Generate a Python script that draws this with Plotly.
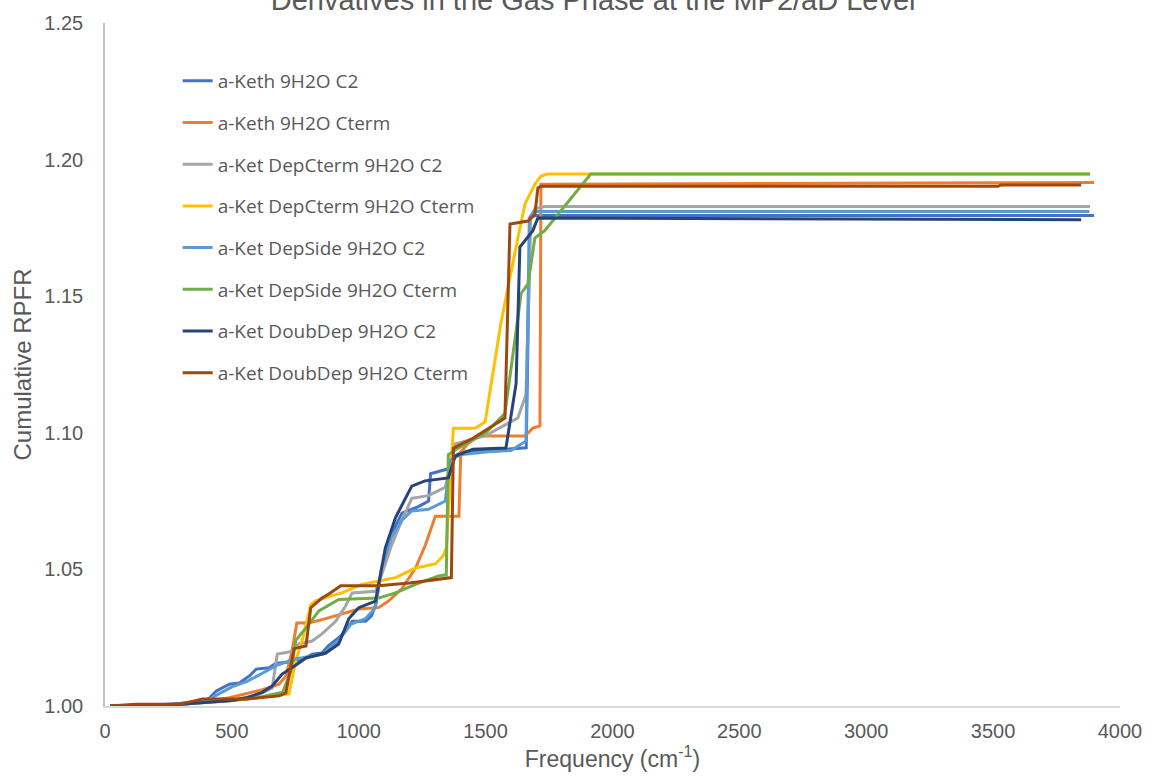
import plotly.graph_objects as go

# ---------------- data ----------------
series_names = [
    "a-Keth 9H2O C2",
    "a-Keth 9H2O Cterm",
    "a-Ket DepCterm 9H2O C2",
    "a-Ket DepCterm 9H2O Cterm",
    "a-Ket DepSide 9H2O C2",
    "a-Ket DepSide 9H2O Cterm",
    "a-Ket DoubDep 9H2O C2",
    "a-Ket DoubDep 9H2O Cterm",
]

keth_c2_freq = [20, 150, 300, 400, 412, 439, 490, 529, 569, 596, 647, 674, 720, 780, 816, 855, 880, 921, 948,
                974, 1027, 1050, 1066, 1105, 1140, 1170, 1235, 1275, 1283, 1341, 1361, 1380, 1404, 1500, 1600,
                1660, 1675, 1694, 3898]
keth_c2_val = [1.000, 1.000, 1.001, 1.002, 1.003, 1.0055, 1.008, 1.0084, 1.011, 1.0135, 1.014, 1.0157, 1.016,
               1.017, 1.019, 1.0194, 1.022, 1.025, 1.0275, 1.031, 1.031, 1.033, 1.037, 1.0567, 1.065, 1.0706,
               1.073, 1.075, 1.085, 1.0867, 1.087, 1.0915, 1.093, 1.0935, 1.094, 1.0945, 1.1786, 1.1795, 1.1795]

keth_ct_freq = [20, 200, 350, 490, 620, 686, 713, 737, 756, 803, 870, 948, 1000, 1078, 1117, 1170, 1224, 1263,
                1302, 1395, 1402, 1430, 1470, 1655, 1686, 1714, 1718, 3500, 3898]
keth_ct_val = [1.000, 1.000, 1.001, 1.003, 1.006, 1.008, 1.011, 1.020, 1.0304, 1.0304, 1.032, 1.034, 1.0355,
               1.036, 1.0384, 1.043, 1.0505, 1.059, 1.0695, 1.0695, 1.093, 1.096, 1.0988, 1.0988, 1.1017,
               1.1025, 1.191, 1.1915, 1.1916]

depct_c2_freq = [20, 200, 350, 500, 600, 659, 679, 737, 764, 816, 855, 909, 948, 974, 1066, 1090, 1130, 1170,
                 1209, 1275, 1326, 1341, 1380, 1500, 1627, 1659, 1678, 1694, 1733, 3882]
depct_c2_val = [1.000, 1.000, 1.001, 1.002, 1.004, 1.0066, 1.019, 1.020, 1.0227, 1.0238, 1.0264, 1.031, 1.0366,
                1.0414, 1.042, 1.048, 1.059, 1.068, 1.076, 1.077, 1.0794, 1.080, 1.0959, 1.099, 1.1054, 1.114,
                1.1786, 1.182, 1.1828, 1.1828]

depct_ct_freq = [20, 200, 350, 500, 600, 700, 725, 752, 780, 811, 830, 880, 933, 1012, 1145, 1224, 1302, 1333,
                 1345, 1373, 1459, 1498, 1560, 1627, 1655, 1694, 1718, 1745, 3882]
depct_ct_val = [1.000, 1.000, 1.001, 1.002, 1.003, 1.004, 1.0044, 1.0165, 1.025, 1.037, 1.0385, 1.040, 1.0414,
                1.0445, 1.047, 1.0505, 1.052, 1.055, 1.058, 1.1017, 1.1017, 1.104, 1.140, 1.1713, 1.1837,
                1.191, 1.194, 1.1947, 1.1947]

depside_c2_freq = [20, 200, 350, 420, 460, 500, 560, 620, 680, 740, 800, 860, 920, 970, 1027, 1066, 1090, 1130,
                   1170, 1209, 1275, 1341, 1360, 1400, 1500, 1600, 1659, 1672, 1690, 3880]
depside_c2_val = [1.000, 1.000, 1.001, 1.003, 1.005, 1.007, 1.009, 1.012, 1.015, 1.017, 1.018, 1.019, 1.024,
                  1.030, 1.032, 1.036, 1.0505, 1.062, 1.068, 1.0714, 1.072, 1.075, 1.090, 1.092, 1.093, 1.0935,
                  1.097, 1.1786, 1.181, 1.181]

depside_ct_freq = [20, 200, 350, 500, 600, 700, 733, 752, 792, 843, 921, 1078, 1145, 1224, 1314, 1345, 1353,
                   1392, 1500, 1576, 1640, 1667, 1694, 1733, 1914, 3882]
depside_ct_val = [1.000, 1.000, 1.001, 1.002, 1.003, 1.005, 1.0128, 1.024, 1.0286, 1.0348, 1.039, 1.0395,
                  1.0414, 1.0445, 1.0476, 1.048, 1.092, 1.0944, 1.100, 1.107, 1.151, 1.1545, 1.1713, 1.174,
                  1.1947, 1.1947]

doub_c2_freq = [20, 200, 350, 500, 556, 620, 659, 698, 737, 792, 870, 921, 961, 1000, 1066, 1105, 1145, 1209,
                1261, 1353, 1380, 1450, 1580, 1620, 1635, 1659, 1686, 1706, 3847]
doub_c2_val = [1.000, 1.000, 1.001, 1.002, 1.003, 1.005, 1.0073, 1.0117, 1.014, 1.0176, 1.0194, 1.0227, 1.032,
               1.036, 1.0384, 1.058, 1.069, 1.0805, 1.0824, 1.0835, 1.0915, 1.094, 1.0944, 1.118, 1.168, 1.171,
               1.174, 1.1786, 1.178]

doub_ct_freq = [20, 120, 294, 385, 556, 686, 713, 745, 792, 811, 855, 882, 929, 1078, 1200, 1365, 1373, 1450,
                1576, 1596, 1667, 1694, 1706, 1718, 3520, 3530, 3847]
doub_ct_val = [1.000, 1.0006, 1.0006, 1.0026, 1.0026, 1.0037, 1.0048, 1.021, 1.022, 1.036, 1.0395, 1.041, 1.044,
               1.044, 1.045, 1.047, 1.0944, 1.098, 1.1054, 1.1764, 1.1775, 1.18, 1.1896, 1.1902, 1.1902,
               1.1907, 1.1907]

x_tick_vals = [0, 500, 1000, 1500, 2000, 2500, 3000, 3500, 4000]
y_tick_vals = [1.00, 1.05, 1.10, 1.15, 1.20, 1.25]

colors = ["#4472C4", "#ED7D31", "#A5A5A5", "#FFC000", "#5B9BD5", "#70AD47", "#264478", "#9E480E"]

all_freq = [keth_c2_freq, keth_ct_freq, depct_c2_freq, depct_ct_freq,
            depside_c2_freq, depside_ct_freq, doub_c2_freq, doub_ct_freq]
all_val = [keth_c2_val, keth_ct_val, depct_c2_val, depct_ct_val,
           depside_c2_val, depside_ct_val, doub_c2_val, doub_ct_val]

# ---------------- figure ----------------
fig = go.Figure()
for i, name in enumerate(series_names):
    fig.add_trace(go.Scatter(
        x=all_freq[i], y=all_val[i], mode="lines", name=name,
        legendgroup="g%d" % i,
        line=dict(color=colors[i], width=3),
    ))

txt = "#595959"
fig.update_layout(
    width=1154, height=782,
    margin=dict(l=105, r=29, t=21, b=76),
    paper_bgcolor="white", plot_bgcolor="white",
    title=dict(text="Derivatives in the Gas Phase at the MP2/aD Level",
               x=0.514, xanchor="center", xref="container",
               y=1.0, yanchor="middle", yref="container",
               font=dict(family="Liberation Sans, Arial", size=29, color=txt)),
    showlegend=True,
    legend=dict(x=0.0716, y=0.943, xanchor="left", yanchor="top",
                bgcolor="rgba(0,0,0,0)", tracegroupgap=14,
                font=dict(family="Open Sans", size=19, color=txt)),
    font=dict(family="Liberation Sans, Arial", color=txt),
)
fig.update_xaxes(
    range=[0, 4000], tickvals=x_tick_vals, ticktext=[str(v) for v in x_tick_vals],
    showgrid=False, zeroline=False, showline=True, linecolor="#D9D9D9", linewidth=2,
    ticks="", ticklabelstandoff=6, tickfont=dict(size=20, color=txt),
    title=dict(text="Frequency (cm<sup>-1</sup>)", standoff=1, font=dict(size=23, color=txt)),
)
fig.update_yaxes(
    range=[1.0, 1.25], tickvals=y_tick_vals, ticktext=["%.2f" % v for v in y_tick_vals],
    showgrid=False, zeroline=False, showline=True, linecolor="#BFBFBF", linewidth=1.5,
    ticks="", ticklabelstandoff=16, tickfont=dict(size=20, color=txt),
    title=dict(text="Cumulative RPFR", standoff=6, font=dict(size=24, color=txt)),
)

fig.write_html("out.html")
